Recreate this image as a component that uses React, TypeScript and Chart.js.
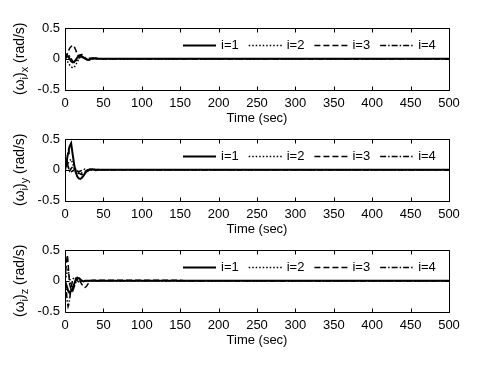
import React, { useEffect, useRef } from "react";
import { Chart, registerables } from "chart.js";

Chart.register(...registerables);

// ---------- data ----------
const time = [0, 2, 3, 4, 5, 6, 8, 10, 12, 14, 16, 18, 20, 22, 24, 26, 28, 30, 33, 36, 40, 45, 50, 150, 155, 500];

const seriesLabels = ["i=1", "i=2", "i=3", "i=4"];
const axisNames = ["x", "y", "z"];

const wx1 = [0, 0.03, 0.04, 0.04, 0.02, 0.0, -0.04, -0.06, -0.05, -0.02, 0.02, 0.05, 0.06, 0.04, 0.02, 0.0, -0.01, -0.02, -0.01, 0.01, 0, 0, 0, 0, 0, 0];
const wx2 = [0, -0.02, -0.04, -0.06, -0.08, -0.1, -0.13, -0.15, -0.14, -0.1, -0.05, 0.0, 0.03, 0.03, 0.02, 0.0, -0.01, -0.02, -0.01, 0.01, 0.01, 0, 0, 0, 0, 0];
const wx3 = [0, 0.05, 0.08, 0.11, 0.14, 0.17, 0.2, 0.22, 0.2, 0.14, 0.07, 0.04, 0.06, 0.07, 0.05, 0.02, 0.0, -0.02, -0.02, 0.0, 0.01, 0, 0, 0, 0, 0];
const wx4 = [0, 0.06, 0.08, 0.08, 0.06, 0.04, 0.0, -0.04, -0.06, -0.05, -0.02, 0.01, 0.03, 0.03, 0.01, 0, -0.01, 0, 0.01, 0, 0, 0, 0, 0, 0, 0];

const wy1 = [0, 0.12, 0.2, 0.27, 0.33, 0.38, 0.43, 0.25, 0.08, -0.04, -0.11, -0.14, -0.15, -0.13, -0.1, -0.06, -0.03, -0.01, 0.01, 0.01, 0, 0, 0, 0, 0, 0];
const wy2 = [0, 0.04, 0.07, 0.1, 0.13, 0.15, 0.17, 0.1, 0.02, -0.04, -0.05, -0.06, -0.06, -0.05, -0.06, -0.05, -0.03, -0.02, -0.01, -0.01, 0.01, 0, 0, 0, 0, 0];
const wy3 = [0, 0.12, 0.1, 0.06, 0.02, -0.01, -0.03, -0.02, 0.0, 0.01, -0.02, -0.05, -0.07, -0.08, -0.06, -0.03, -0.01, 0.0, 0.01, 0, -0.01, 0, 0, 0, 0, 0];
const wy4 = [0, 0.18, 0.12, 0.05, 0.0, -0.02, 0.02, 0.05, 0.03, 0.0, -0.02, -0.03, -0.02, -0.01, 0, 0.01, 0, 0, 0, 0, 0, 0, 0, 0, 0, 0];

const wz1 = [0, -0.08, -0.12, -0.16, -0.18, -0.19, -0.17, -0.12, -0.05, 0.02, 0.05, 0.04, 0.02, 0.0, -0.01, 0, 0, 0, 0, 0, 0, 0, 0, 0, 0, 0];
const wz2 = [0, 0.1, 0.15, 0.18, 0.12, 0.05, -0.08, -0.14, -0.1, -0.03, 0.02, 0.05, 0.03, 0.0, -0.01, 0, 0, 0, 0, 0, 0, 0, 0, 0, 0, 0];
const wz3 = [0, 0.3, 0.42, 0.3, 0.1, -0.05, -0.15, -0.17, -0.1, 0.0, 0.05, 0.03, -0.02, -0.06, -0.1, -0.11, -0.09, -0.05, 0.0, 0.01, 0.01, 0.01, 0.01, 0.01, 0, 0];
const wz4 = [0, -0.2, -0.35, -0.42, -0.38, -0.3, -0.12, 0.02, 0.06, 0.04, 0.0, -0.02, -0.01, 0, 0, 0, 0, 0, 0, 0, 0, 0, 0, 0, 0, 0];

const panels = [
  [wx1, wx2, wx3, wx4],
  [wy1, wy2, wy3, wy4],
  [wz1, wz2, wz3, wz4],
];

// ---------- style ----------
const FONT = "'Liberation Sans', Arial, Helvetica, sans-serif";
const dashStyles = [[], [1.5, 2], [6, 3], [6, 2, 1.5, 2]];
const lineWidths = [2, 1.5, 1.5, 1.5];
const CANVAS_W = 497;
const CANVAS_H = 130;
const PANEL_STEP = 111;
const PLOT_TOP = 28;
const PLOT_BOTTOM = 89.5;
const PLOT_LEFT = 65;
const PLOT_RIGHT = 449;

const framePlugin = {
  id: "matlabFrame",
  afterDraw(chart: any) {
    const { ctx, chartArea } = chart;
    const { left, right, top, bottom } = chartArea;
    const xs = chart.scales.x;
    const ys = chart.scales.y;
    ctx.save();
    ctx.strokeStyle = "#000";
    ctx.lineWidth = 1;
    ctx.setLineDash([]);
    const L = Math.round(left) + 0.5;
    const R = Math.round(right) + 0.5;
    const T = Math.round(top) + 0.5;
    const B = Math.round(bottom) + 0.5;
    ctx.beginPath();
    ctx.rect(L, T, R - L, B - T);
    const tl = 4;
    xs.ticks.forEach((t: any) => {
      const px = Math.round(xs.getPixelForValue(t.value)) + 0.5;
      ctx.moveTo(px, B);
      ctx.lineTo(px, B - tl);
      ctx.moveTo(px, T);
      ctx.lineTo(px, T + tl);
    });
    ys.ticks.forEach((t: any) => {
      const py = Math.round(ys.getPixelForValue(t.value)) + 0.5;
      ctx.moveTo(L, py);
      ctx.lineTo(L + tl, py);
      ctx.moveTo(R, py);
      ctx.lineTo(R - tl, py);
    });
    ctx.stroke();

    // legend inside the axes
    const opts = chart.options.plugins.matlabFrame || {};
    ctx.font = `13px ${FONT}`;
    ctx.textBaseline = "middle";
    ctx.fillStyle = "#000";
    let x = right - 266;
    const ly = Math.round(top + 17) + 0.5;
    chart.data.datasets.forEach((ds: any) => {
      ctx.save();
      ctx.lineWidth = ds.borderWidth;
      ctx.setLineDash(ds.borderDash || []);
      ctx.beginPath();
      ctx.moveTo(x, ly);
      ctx.lineTo(x + 33, ly);
      ctx.stroke();
      ctx.restore();
      x += 38;
      ctx.fillText(ds.label, x, ly);
      x += ctx.measureText(ds.label).width + 10;
    });

    // y label with subscripts
    const name = opts.axisName || "x";
    const parts = [
      { t: "(ω", sub: false },
      { t: "i", sub: true },
      { t: ")", sub: false },
      { t: name, sub: true },
      { t: " (rad/s)", sub: false },
    ];
    const mainFont = `14px ${FONT}`;
    const subFont = `11px ${FONT}`;
    let total = 0;
    parts.forEach((p) => {
      ctx.font = p.sub ? subFont : mainFont;
      total += ctx.measureText(p.t).width;
    });
    ctx.translate(opts.labelX || 24, (top + bottom) / 2);
    ctx.rotate(-Math.PI / 2);
    ctx.textBaseline = "alphabetic";
    ctx.textAlign = "left";
    let cx = -total / 2;
    parts.forEach((p) => {
      ctx.font = p.sub ? subFont : mainFont;
      ctx.fillText(p.t, cx, p.sub ? 4 : 0);
      cx += ctx.measureText(p.t).width;
    });
    ctx.restore();
  },
};

function Panel({ index }: { index: number }) {
  const ref = useRef<HTMLCanvasElement | null>(null);
  useEffect(() => {
    if (!ref.current) return;
    const series = panels[index];
    const chart = new Chart(ref.current, {
      type: "line",
      data: {
        datasets: series.map((vals, i) => ({
          label: seriesLabels[i],
          data: time.map((t, k) => ({ x: t, y: vals[k] })),
          borderColor: "#000",
          backgroundColor: "#000",
          borderWidth: lineWidths[i],
          borderDash: dashStyles[i],
          pointRadius: 0,
          tension: 0,
          fill: false,
        })),
      },
      options: {
        animation: false,
        responsive: false,
        maintainAspectRatio: false,
        devicePixelRatio: 1,
        layout: { padding: { top: PLOT_TOP, left: 0, right: CANVAS_W - PLOT_RIGHT, bottom: 0 } },
        plugins: {
          legend: { display: false },
          tooltip: { enabled: false },
          matlabFrame: { axisName: axisNames[index], labelX: 24 },
        } as any,
        scales: {
          x: {
            type: "linear",
            min: 0,
            max: 500,
            ticks: {
              stepSize: 50,
              color: "#000",
              font: { family: FONT, size: 13 },
              padding: 6,
              maxRotation: 0,
              autoSkip: false,
            },
            grid: { display: false, drawTicks: false },
            border: { display: false },
            title: {
              display: true,
              text: "Time (sec)",
              color: "#000",
              font: { family: FONT, size: 13 },
              padding: { top: 0, bottom: 4 },
            },
            afterFit: (s: any) => {
              s.height = CANVAS_H - PLOT_BOTTOM;
            },
          },
          y: {
            type: "linear",
            min: -0.5,
            max: 0.5,
            ticks: {
              stepSize: 0.5,
              color: "#000",
              font: { family: FONT, size: 13 },
              padding: 5,
            },
            grid: { display: false, drawTicks: false },
            border: { display: false },
            afterFit: (s: any) => {
              s.width = PLOT_LEFT;
            },
          },
        },
      },
      plugins: [framePlugin],
    });
    return () => chart.destroy();
  }, [index]);
  return (
    <canvas
      ref={ref}
      width={CANVAS_W}
      height={CANVAS_H}
      style={{ position: "absolute", left: 0, top: index * PANEL_STEP, width: CANVAS_W, height: CANVAS_H, display: "block" }}
    />
  );
}

export default function App() {
  return (
    <div style={{ position: "absolute", left: 0, top: 0, width: 497, height: 372, background: "#fff", overflow: "hidden" }}>
      {[0, 1, 2].map((i) => (
        <Panel key={i} index={i} />
      ))}
    </div>
  );
}
